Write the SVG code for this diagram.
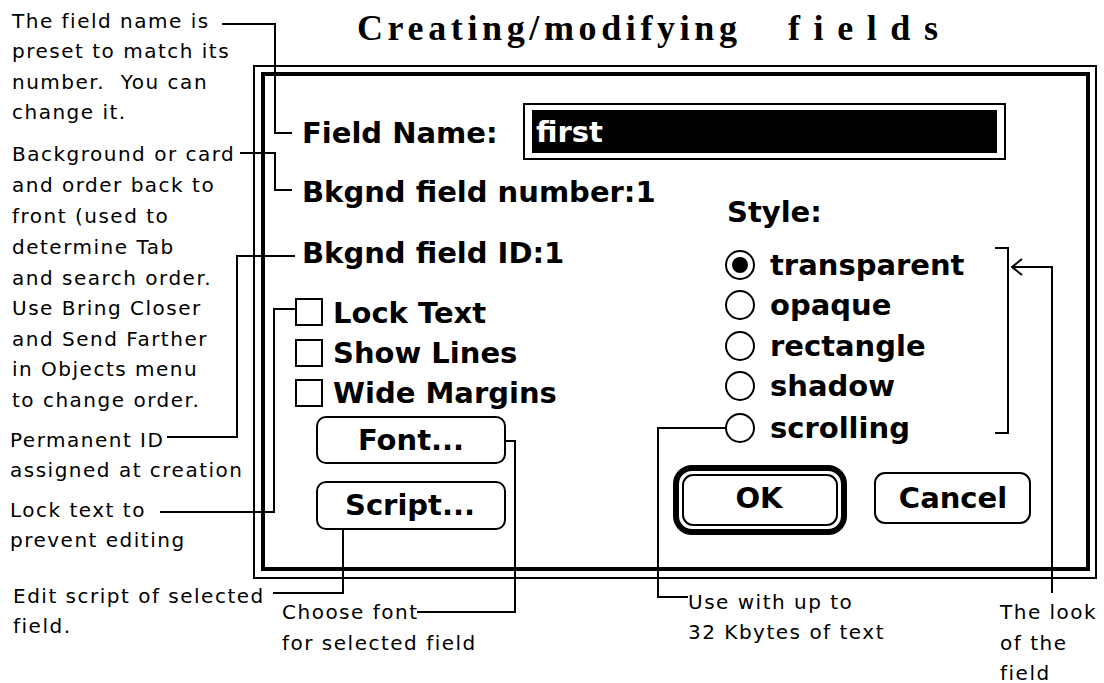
<svg xmlns="http://www.w3.org/2000/svg" width="1104" height="683" viewBox="0 0 1104 683">
  <style>
    .ui { font-family: "DejaVu Sans", "Liberation Sans", sans-serif; font-weight: bold; font-size: 29px; fill: #000; }
    .note { font-family: "DejaVu Sans", "Liberation Sans", sans-serif; font-size: 20px; letter-spacing: 1.5px; fill: #000; }
    .title { font-family: "Liberation Serif", "DejaVu Serif", serif; font-weight: bold; font-size: 36px; fill: #000; }
    .wire { fill: none; stroke: #000; stroke-width: 2; }
    .box { fill: #fff; stroke: #000; stroke-width: 2; }
  </style>
  <defs>
    <marker id="open-arrow" markerWidth="12" markerHeight="18" refX="11" refY="9" orient="auto" markerUnits="userSpaceOnUse">
      <path d="M1,1 L11,9 L1,17" fill="none" stroke="#000" stroke-width="2"/>
    </marker>
  </defs>

  <rect width="1104" height="683" fill="#fff"/>

  <!-- heading -->
  <g id="title">
    <text class="title" x="357" y="40" textLength="380" lengthAdjust="spacing">Creating/modifying</text>
    <text class="title" x="788" y="40" textLength="150" lengthAdjust="spacing">fields</text>
  </g>

  <!-- dialog window: thin outer border and heavy inner border -->
  <g id="dialog-frame">
    <rect x="254" y="66" width="842" height="512" fill="none" stroke="#000" stroke-width="2"/>
    <rect x="263" y="74" width="825" height="495" fill="none" stroke="#000" stroke-width="4"/>
  </g>

  <g id="field-name">
    <text class="ui" x="302" y="143">Field Name:</text>
    <rect x="524" y="104" width="481" height="55" class="box"/>
    <rect x="532" y="110" width="465" height="43" fill="#000"/>
    <text class="ui" x="536" y="142" style="fill:#fff">first</text>
  </g>

  <g id="field-number">
    <text class="ui" x="302" y="202">Bkgnd field number:1</text>
  </g>

  <g id="field-id">
    <text class="ui" x="302" y="263">Bkgnd field ID:1</text>
  </g>

  <g id="opt-lock-text">
    <rect x="296" y="299" width="26" height="26" class="box"/>
    <text class="ui" x="333" y="323">Lock Text</text>
  </g>
  <g id="opt-show-lines">
    <rect x="296" y="340" width="26" height="26" class="box"/>
    <text class="ui" x="333" y="363">Show Lines</text>
  </g>
  <g id="opt-wide-margins">
    <rect x="296" y="380" width="26" height="26" class="box"/>
    <text class="ui" x="333" y="403">Wide Margins</text>
  </g>

  <g id="btn-font">
    <rect x="317" y="417" width="188" height="46" rx="9" class="box"/>
    <text class="ui" x="411" y="450" text-anchor="middle">Font...</text>
  </g>
  <g id="btn-script">
    <rect x="317" y="482" width="188" height="47" rx="9" class="box"/>
    <text class="ui" x="410" y="515" text-anchor="middle">Script...</text>
  </g>

  <g id="style-group">
    <text class="ui" x="727" y="222">Style:</text>
    <g id="style-transparent">
      <circle cx="740" cy="265" r="14" class="box"/>
      <circle cx="740" cy="265" r="8" fill="#000"/>
      <text class="ui" x="770" y="275">transparent</text>
    </g>
    <g id="style-opaque">
      <circle cx="740" cy="305" r="14" class="box"/>
      <text class="ui" x="770" y="315">opaque</text>
    </g>
    <g id="style-rectangle">
      <circle cx="740" cy="346" r="14" class="box"/>
      <text class="ui" x="770" y="356">rectangle</text>
    </g>
    <g id="style-shadow">
      <circle cx="740" cy="386" r="14" class="box"/>
      <text class="ui" x="770" y="396">shadow</text>
    </g>
    <g id="style-scrolling">
      <circle cx="740" cy="428" r="14" class="box"/>
      <text class="ui" x="770" y="438">scrolling</text>
    </g>
  </g>

  <g id="btn-ok">
    <rect x="676" y="468" width="168" height="64" rx="16" fill="none" stroke="#000" stroke-width="6"/>
    <rect x="683" y="475" width="154" height="50" rx="10" class="box"/>
    <text class="ui" x="759" y="508" text-anchor="middle">OK</text>
  </g>
  <g id="btn-cancel">
    <rect x="875" y="473" width="155" height="50" rx="10" class="box"/>
    <text class="ui" x="953" y="508" text-anchor="middle">Cancel</text>
  </g>

  <!-- callout notes -->
  <g id="note-name">
    <text class="note" x="12" y="28">The field name is</text>
    <text class="note" x="12" y="58">preset to match its</text>
    <text class="note" x="12" y="89">number.&#160; You can</text>
    <text class="note" x="12" y="119">change it.</text>
  </g>
  <g id="note-order">
    <text class="note" x="12" y="161">Background or card</text>
    <text class="note" x="12" y="192">and order back to</text>
    <text class="note" x="12" y="223">front (used to</text>
    <text class="note" x="12" y="254">determine Tab</text>
    <text class="note" x="12" y="285">and search order.</text>
    <text class="note" x="12" y="315">Use Bring Closer</text>
    <text class="note" x="12" y="346">and Send Farther</text>
    <text class="note" x="12" y="376">in Objects menu</text>
    <text class="note" x="12" y="407">to change order.</text>
  </g>
  <g id="note-id">
    <text class="note" x="10" y="447">Permanent ID</text>
    <text class="note" x="10" y="477">assigned at creation</text>
  </g>
  <g id="note-lock">
    <text class="note" x="10" y="517">Lock text to</text>
    <text class="note" x="10" y="547">prevent editing</text>
  </g>
  <g id="note-script">
    <text class="note" x="13" y="603">Edit script of selected</text>
    <text class="note" x="13" y="633">field.</text>
  </g>
  <g id="note-font">
    <text class="note" x="282" y="619">Choose font</text>
    <text class="note" x="282" y="650">for selected field</text>
  </g>
  <g id="note-scrolling">
    <text class="note" x="688" y="609">Use with up to</text>
    <text class="note" x="688" y="639">32 Kbytes of text</text>
  </g>
  <g id="note-look">
    <text class="note" x="1000" y="619">The look</text>
    <text class="note" x="1000" y="650">of the</text>
    <text class="note" x="1000" y="680">field</text>
  </g>

  <!-- leader lines -->
  <g id="connectors" class="wire">
    <path d="M222,24 H275 V133 H292"/>
    <path d="M240,153 H275 V190 H292"/>
    <path d="M167,437 H237 V256 H295"/>
    <path d="M160,512 H274 V309 H296"/>
    <path d="M273,593 H343 V529"/>
    <path d="M417,612 H515 V441 H505"/>
    <path d="M688,597 H658 V428 H726"/>
    <path d="M995,248 H1008 V433 H995"/>
    <path d="M1052,593 V267 H1012" marker-end="url(#open-arrow)"/>
  </g>
</svg>
